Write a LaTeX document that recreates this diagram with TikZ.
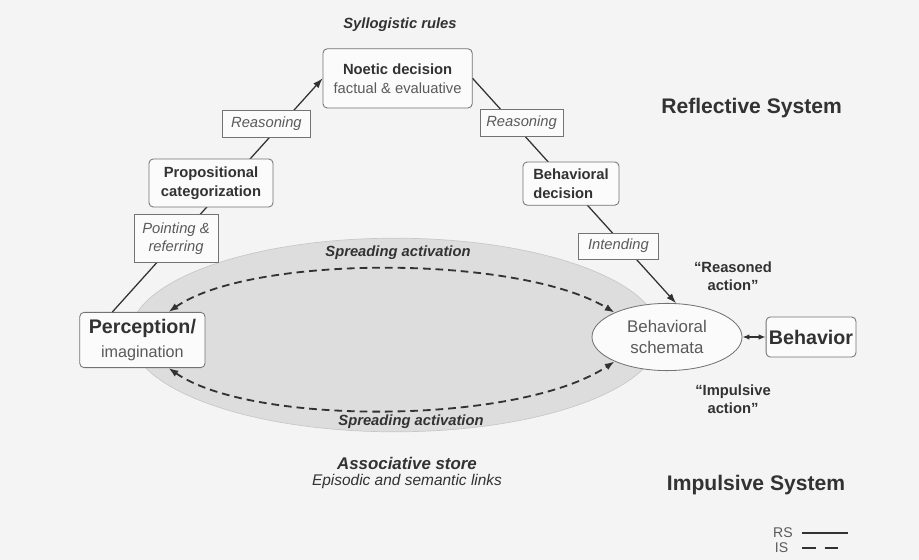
\documentclass[tikz,border=0pt]{standalone}
\usepackage{fontspec}
\setmainfont{Liberation Sans}
\usetikzlibrary{shapes.geometric,arrows.meta,positioning}
\definecolor{paper}{RGB}{244,244,244}
\definecolor{StoreFill}{RGB}{221,221,221}
\definecolor{StoreLine}{RGB}{200,200,200}
\definecolor{BoxFill}{RGB}{251,251,251}
\definecolor{BoxLine}{RGB}{115,115,115}
\definecolor{InkDark}{RGB}{50,50,50}
\definecolor{InkSoft}{RGB}{90,90,90}
\tikzset{
  dbox/.style={draw=BoxLine,fill=BoxFill,rounded corners=3pt,align=center,
               inner sep=2pt,line width=0.6pt,text=InkDark,
               font=\fontsize{10.5}{13.5}\selectfont\bfseries},
  lbox/.style={draw=BoxLine,fill=BoxFill,align=center,inner sep=2pt,
               line width=0.5pt,text=InkSoft,
               font=\fontsize{10.5}{13}\selectfont\itshape},
  note/.style={align=center,text=InkDark,
               font=\fontsize{10.5}{12.5}\selectfont\bfseries},
  spread/.style={text=InkDark,font=\fontsize{10.5}{12}\selectfont\bfseries\itshape},
  sysl/.style={text=InkDark,font=\fontsize{15}{18}\selectfont\bfseries},
  rsarr/.style={-{Latex[length=7pt,width=5pt]},draw=InkDark,line width=0.9pt},
  isarr/.style={{Latex[length=7pt,width=5pt]}-{Latex[length=7pt,width=5pt]},
                draw=InkDark,line width=1.3pt,dash pattern=on 5.5pt off 3.5pt},
  bharr/.style={{Latex[length=5pt,width=4pt]}-{Latex[length=5pt,width=4pt]},
                draw=InkDark,line width=1pt},
}
\begin{document}
\begin{tikzpicture}
  \fill[paper] (0,0) rectangle (22.975,14);
  \useasboundingbox (0,0) rectangle (22.975,14);
  \draw[StoreLine,fill=StoreFill,line width=0.5pt] (9.875,5.625) ellipse [x radius=6.625cm,y radius=2.42cm];

  \node[dbox,minimum width=3.73cm,minimum height=1.48cm] (noetic) at (9.94,12.04)
    {Noetic decision\\{\mdseries\color{InkSoft}factual \& evaluative}};
  \node[dbox,minimum width=3.13cm,minimum height=1.38cm,font=\fontsize{14}{16.5}\selectfont\bfseries] (perc) at (3.56,5.5)
    {Perception/\\{\mdseries\fontsize{11.5}{14}\selectfont\color{InkSoft}imagination}};
  \node[ellipse,draw=BoxLine,fill=BoxFill,line width=0.6pt,minimum width=3.75cm,minimum height=1.68cm,
        align=center,text=InkSoft,font=\fontsize{12}{14.5}\selectfont] (schem) at (16.675,5.575) {Behavioral\\schemata};
  \node[dbox,minimum width=2.2cm,minimum height=1.0cm,font=\fontsize{14}{16}\selectfont\bfseries] (behav) at (20.275,5.575) {Behavior};

  \draw[rsarr] (perc.137) -- (noetic.west);
  \draw[rsarr] (noetic.east) -- (schem.75);
  \draw[isarr] (perc.47) .. controls +(2.06,1.44) and +(-2.4,1.45) .. (schem.155);
  \draw[isarr] (perc.-47) .. controls +(2.06,-1.44) and +(-2.4,-1.6) .. (schem.205);
  \draw[bharr] (schem) -- (behav);

  \node[dbox,minimum width=3.1cm,minimum height=1.2cm] (prop) at (5.275,9.425) {Propositional\\categorization};
  \node[dbox,align=left,minimum width=2.4cm,minimum height=1.08cm] (bdec) at (14.275,9.41) {Behavioral\\decision};
  \node[lbox,minimum width=2.22cm,minimum height=0.68cm] (reasL) at (6.66,10.91) {Reasoning};
  \node[lbox,minimum width=2.1cm,minimum height=1.2cm] (point) at (4.4,8.04) {Pointing \&\\referring};
  \node[lbox,minimum width=2.08cm,minimum height=0.68cm] (reasR) at (13.04,10.925) {Reasoning};
  \node[lbox,minimum width=1.98cm,minimum height=0.65cm] (intend) at (15.46,7.85) {Intending};

  \node[spread] (syl) at (10.0,13.375) {Syllogistic rules};
  \node[sysl] (refl) at (18.79,11.3) {Reflective System};
  \node[note] (reasoned) at (18.325,7.1) {“Reasoned\\action”};
  \node[note] (impuls) at (18.325,4.025) {“Impulsive\\action”};
  \node[spread] (sprTop) at (9.95,7.675) {Spreading activation};
  \node[spread] (sprBot) at (10.275,3.45) {Spreading activation};
  \node[text=InkDark,font=\fontsize{12}{14}\selectfont\bfseries\itshape] (assoc) at (10.175,2.425) {Associative store};
  \node[text=InkDark,font=\fontsize{11}{13}\selectfont\itshape,below=-0.12cm of assoc] (links) {Episodic and semantic links};
  \node[sysl] (impsys) at (18.9,1.875) {Impulsive System};

  \node[text=InkSoft,font=\fontsize{10}{12}\selectfont] (rslbl) at (19.575,0.675) {RS};
  \node[text=InkSoft,font=\fontsize{10}{12}\selectfont] (islbl) at (19.54,0.3) {IS};
  \draw[InkDark,line width=1.1pt] ([xshift=0.1cm]rslbl.east) -- ++(1.15,0);
  \draw[InkDark,line width=1.4pt,dash pattern=on 10pt off 6pt] ([xshift=0.22cm]islbl.east) -- ++(0.9,0);
\end{tikzpicture}
\end{document}
